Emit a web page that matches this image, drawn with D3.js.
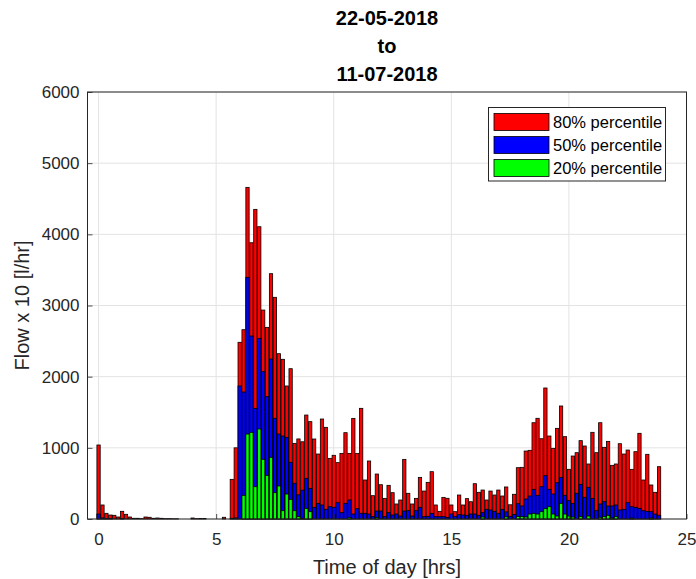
<!DOCTYPE html>
<html>
<head>
<meta charset="utf-8">
<script src="https://cdn.jsdelivr.net/npm/d3@7"></script>
<style>
  html, body { margin: 0; padding: 0; background: #fff; }
  svg { display: block; font-family: "Liberation Sans", Arial, Helvetica, sans-serif; }
</style>
</head>
<body>
<svg id="chart" width="696" height="579"></svg>
<script>
// Flow percentiles per 10-minute slot of the day (144 slots, 00:00 .. 23:50)
const binsPerHour = 6;

const p80 = [
  1040, 197, 80, 56, 52, 28, 108, 66, 28, 10, 10, 5, 28, 24, 10, 14, 10, 5, 5, 3,
  3, 0, 0, 0, 14, 5, 7, 7, 0, 0, 0, 0, 24, 0, 557, 1000, 2483, 2660, 4660, 3882,
  4351, 4107, 2936, 2693, 3447, 3115, 2323, 2244, 1869, 2112, 1063, 1125, 1085, 1461, 1368, 1124, 913, 1405, 1288, 852,
  895, 792, 922, 1213, 922, 1414, 922, 1555, 548, 815, 328, 632, 482, 290, 473, 370, 211, 267, 838, 361,
  211, 290, 585, 393, 515, 665, 197, 108, 304, 291, 197, 103, 337, 197, 286, 243, 496, 375, 407, 267,
  393, 337, 407, 323, 450, 200, 347, 721, 726, 955, 965, 1353, 1415, 1128, 1841, 1166, 993, 1274, 1588, 1157,
  698, 885, 932, 1101, 1026, 773, 1218, 932, 1353, 1007, 1091, 754, 773, 1058, 913, 969, 698, 946, 1204, 548,
  909, 478, 375, 735
];

const p50 = [
  70, 15, 5, 5, 0, 0, 5, 0, 0, 0, 0, 0, 0, 0, 0, 0, 0, 0, 0, 0,
  0, 0, 0, 0, 0, 0, 0, 0, 0, 0, 0, 0, 0, 0, 10, 15, 1869, 1784, 3396, 2571,
  1555, 2539, 2070, 1719, 2248, 1415, 1194, 1166, 1148, 796, 502, 340, 405, 571, 431, 164, 220, 197, 136, 173,
  164, 229, 89, 220, 267, 70, 145, 80, 80, 70, 33, 112, 112, 33, 89, 56, 70, 42, 112, 117,
  42, 117, 164, 33, 38, 80, 33, 33, 33, 23, 70, 33, 61, 56, 52, 70, 70, 52, 89, 136,
  127, 108, 80, 136, 100, 38, 63, 215, 183, 281, 323, 417, 333, 454, 609, 417, 351, 510, 585, 333,
  258, 220, 361, 487, 305, 445, 290, 117, 211, 243, 183, 183, 197, 127, 136, 229, 173, 164, 150, 117,
  108, 103, 70, 52
];

const p20 = [
  0, 0, 0, 0, 0, 0, 0, 0, 0, 0, 0, 0, 0, 0, 0, 0, 0, 0, 0, 0,
  0, 0, 0, 0, 0, 0, 0, 0, 0, 0, 0, 0, 0, 0, 0, 0, 0, 333, 1194, 1218,
  454, 1265, 839, 614, 867, 370, 464, 117, 351, 277, 117, 33, 10, 150, 103, 0, 0, 0, 0, 0,
  0, 0, 0, 0, 19, 0, 0, 0, 0, 0, 0, 19, 0, 0, 0, 0, 0, 0, 0, 0,
  0, 0, 0, 0, 0, 0, 0, 0, 0, 0, 0, 0, 0, 0, 0, 0, 0, 0, 28, 0,
  0, 0, 0, 0, 30, 0, 0, 35, 33, 28, 70, 80, 70, 103, 145, 173, 70, 42, 220, 70,
  42, 28, 0, 33, 0, 42, 0, 0, 24, 33, 52, 14, 33, 0, 0, 0, 14, 0, 0, 0,
  0, 14, 0, 0
];

const seriesNames = ["80% percentile", "50% percentile", "20% percentile"];
const seriesColors = ["#ff0000", "#0000ff", "#00ff00"];
const xTicks = [0, 5, 10, 15, 20, 25];
const yTicks = [0, 1000, 2000, 3000, 4000, 5000, 6000];
const titleLines = ["22-05-2018", "to", "11-07-2018"];

const series = [p80, p50, p20];
const hours = p80.map((_, i) => i / binsPerHour);

const svg = d3.select("#chart");
const plot = { left: 87.5, right: 686.5, top: 92, bottom: 519 };
const axisColor = "#262626";

const x = d3.scaleLinear().domain([-0.47, 25]).range([plot.left, plot.right]);
const y = d3.scaleLinear().domain([0, 6000]).range([plot.bottom, plot.top]);

// grid
const grid = svg.append("g");
grid.selectAll("line.gx").data(xTicks).join("line")
  .attr("x1", d => x(d)).attr("x2", d => x(d))
  .attr("y1", plot.top).attr("y2", plot.bottom)
  .attr("stroke", "#e3e3e3").attr("stroke-width", 1);
grid.selectAll("line.gy").data(yTicks).join("line")
  .attr("x1", plot.left).attr("x2", plot.right)
  .attr("y1", d => y(d)).attr("y2", d => y(d))
  .attr("stroke", "#e3e3e3").attr("stroke-width", 1);

// overlaid bars: 80% behind, 50% in front, 20% on top
const slot = x(1 / binsPerHour) - x(0);
const bw = slot * 0.84;
series.forEach((vals, s) => {
  svg.append("g").selectAll("rect")
    .data(vals.map((v, i) => ({ h: hours[i], v })).filter(d => d.v > 0))
    .join("rect")
    .attr("x", d => x(d.h) - bw / 2)
    .attr("width", bw)
    .attr("y", d => y(d.v))
    .attr("height", d => y(0) - y(d.v))
    .attr("fill", seriesColors[s])
    .attr("stroke", "#000")
    .attr("stroke-width", 0.8);
});

// axes (ticks point inward)
const xAxis = d3.axisBottom(x).tickValues(xTicks).tickFormat(d3.format("d"))
  .tickSizeInner(-5).tickSizeOuter(0).tickPadding(14);
const yAxis = d3.axisLeft(y).tickValues(yTicks).tickFormat(d3.format("d"))
  .tickSizeInner(-5).tickSizeOuter(0).tickPadding(8);

const gx = svg.append("g").attr("transform", `translate(0,${plot.bottom})`).call(xAxis);
const gy = svg.append("g").attr("transform", `translate(${plot.left},0)`).call(yAxis);
[gx, gy].forEach(g => {
  g.select(".domain").remove();
  g.selectAll(".tick line").attr("stroke", axisColor).attr("stroke-width", 0.8);
  g.selectAll(".tick text").attr("fill", axisColor)
    .style("font-size", "17px").style("font-family", "Liberation Sans, Arial, sans-serif");
});

// axes box
svg.append("rect")
  .attr("x", plot.left).attr("y", plot.top)
  .attr("width", plot.right - plot.left).attr("height", plot.bottom - plot.top)
  .attr("fill", "none").attr("stroke", axisColor).attr("stroke-width", 1);

// labels
svg.append("text")
  .attr("x", (plot.left + plot.right) / 2).attr("y", 574)
  .attr("text-anchor", "middle").attr("fill", axisColor)
  .style("font-size", "20px")
  .text("Time of day [hrs]");

svg.append("text")
  .attr("transform", `translate(29,${(plot.top + plot.bottom) / 2}) rotate(-90)`)
  .attr("text-anchor", "middle").attr("fill", axisColor)
  .style("font-size", "20px")
  .text("Flow x 10 [l/hr]");

// title
svg.append("g").selectAll("text").data(titleLines).join("text")
  .attr("x", (plot.left + plot.right) / 2)
  .attr("y", (d, i) => 25 + i * 28)
  .attr("text-anchor", "middle")
  .attr("fill", "#000")
  .style("font-size", "20px").style("font-weight", "bold")
  .text(d => d);

// legend
const lg = svg.append("g");
lg.append("rect")
  .attr("x", 488.5).attr("y", 107.5).attr("width", 177).attr("height", 73.5)
  .attr("fill", "#fff").attr("stroke", axisColor).attr("stroke-width", 1);
seriesNames.forEach((name, i) => {
  const cy = 122 + i * 23;
  lg.append("rect")
    .attr("x", 494).attr("y", cy - 8.5).attr("width", 55).attr("height", 17)
    .attr("fill", seriesColors[i]).attr("stroke", "#000").attr("stroke-width", 0.8);
  lg.append("text")
    .attr("x", 553).attr("y", cy + 6)
    .attr("fill", "#000")
    .style("font-size", "16.5px")
    .text(name);
});
</script>
</body>
</html>
